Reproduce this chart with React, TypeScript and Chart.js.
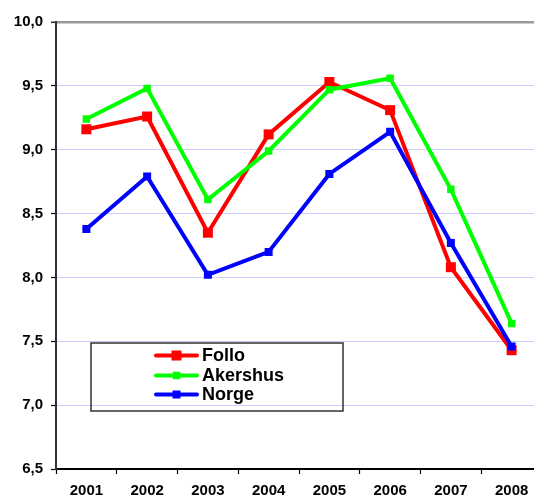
import React, { useEffect, useRef } from "react";
import { Chart, registerables } from "chart.js";

Chart.register(...registerables);

const years = ["2001", "2002", "2003", "2004", "2005", "2006", "2007", "2008"];
const follo = [9.16, 9.26, 8.35, 9.12, 9.53, 9.31, 8.08, 7.43];
const akershus = [9.24, 9.48, 8.61, 8.99, 9.47, 9.56, 8.69, 7.64];
const norge = [8.38, 8.79, 8.02, 8.2, 8.81, 9.14, 8.27, 7.46];
const seriesNames = ["Follo", "Akershus", "Norge"];
const yTicks = [6.5, 7.0, 7.5, 8.0, 8.5, 9.0, 9.5, 10.0];

const FONT = "'Liberation Sans', Arial, sans-serif";

const legendPlugin = {
  id: "boxLegend",
  afterDraw(chart: any) {
    const ctx = chart.ctx;
    ctx.save();
    ctx.strokeStyle = "#333";
    ctx.lineWidth = 1.5;
    ctx.strokeRect(91, 343, 252, 68);
    const rows = [355.5, 375.5, 394.5];
    chart.data.datasets.forEach((ds: any, i: number) => {
      const y = rows[i];
      ctx.strokeStyle = ds.borderColor;
      ctx.lineWidth = 4;
      ctx.lineCap = "round";
      ctx.beginPath();
      ctx.moveTo(156, y);
      ctx.lineTo(197, y);
      ctx.stroke();
      const side = ds.legendMarker;
      ctx.fillStyle = ds.borderColor;
      ctx.fillRect(176.5 - side / 2, y - side / 2, side, side);
      ctx.fillStyle = "#000";
      ctx.font = `bold 18px ${FONT}`;
      ctx.textBaseline = "middle";
      ctx.textAlign = "left";
      ctx.fillText(ds.label, 202, y + 1);
    });
    ctx.restore();
  },
};

export default function App() {
  const ref = useRef<HTMLCanvasElement>(null);
  useEffect(() => {
    if (!ref.current) return;
    const mk = (label: string, data: number[], color: string, side: number, order: number) => ({
      label,
      data,
      borderColor: color,
      backgroundColor: color,
      borderWidth: 4,
      pointStyle: "rect",
      pointRadius: side / Math.SQRT2,
      pointBorderWidth: 0,
      pointHoverRadius: side / Math.SQRT2,
      tension: 0,
      order,
      legendMarker: side,
    });
    const chart = new Chart(ref.current, {
      type: "line",
      data: {
        labels: years,
        datasets: [
          mk(seriesNames[0], follo, "#ff0000", 10, 3),
          mk(seriesNames[1], akershus, "#00ff00", 7.5, 2),
          mk(seriesNames[2], norge, "#0000ff", 8, 1),
        ] as any,
      },
      options: {
        animation: false,
        responsive: false,
        devicePixelRatio: 1,
        layout: { padding: { top: 22, left: 0, right: 8, bottom: 0 } },
        plugins: { legend: { display: false }, tooltip: { enabled: false } },
        scales: {
          x: {
            offset: true,
            grid: {
              offset: true,
              drawOnChartArea: false,
              drawTicks: true,
              tickLength: 5,
              tickColor: "#000",
              tickWidth: 1.2,
            },
            border: { color: "#000", width: 1.5 },
            ticks: {
              color: "#000",
              font: { family: FONT, size: 15, weight: "bold" },
              padding: 8,
              maxRotation: 0,
              autoSkip: false,
            },
            afterFit: (s: any) => {
              s.height = 26;
            },
          },
          y: {
            min: 6.5,
            max: 10,
            afterBuildTicks: (s: any) => {
              s.ticks = yTicks.map((v) => ({ value: v }));
            },
            grid: {
              color: (c: any) =>
                c.tick && c.tick.value === 10 ? "#999999" : c.tick && c.tick.value === 6.5 ? "#000" : "#ccccff",
              lineWidth: (c: any) => (c.tick && c.tick.value === 10 ? 2.5 : 1),
              tickLength: 5,
              tickColor: "#000",
              tickWidth: 1.2,
            },
            border: { color: "#333", width: 2 },
            ticks: {
              color: "#000",
              font: { family: FONT, size: 15, weight: "bold" },
              padding: 8,
              callback: (v: any) => Number(v).toFixed(1).replace(".", ","),
            },
            afterFit: (s: any) => {
              s.width = 56;
            },
          },
        },
      },
      plugins: [legendPlugin],
    });
    return () => chart.destroy();
  }, []);
  return (
    <div
      style={{
        position: "absolute",
        left: 0,
        top: 0,
        width: 534,
        height: 495,
        overflow: "hidden",
        background: "#fff",
      }}
    >
      <canvas ref={ref} width={550} height={495} style={{ display: "block" }} />
    </div>
  );
}
